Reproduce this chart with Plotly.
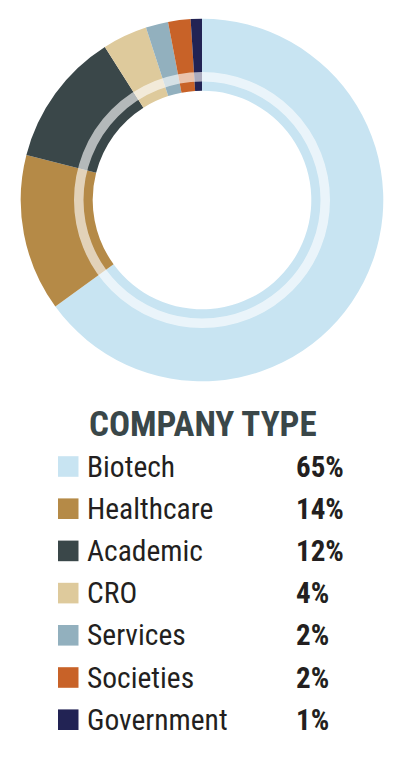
import plotly.graph_objects as go

# The page body has an 8px default margin, so the figure is drawn 8px in
# from the window's top-left corner; sizes/positions below are window pixels.
OFF = 8
W, H = 399 - 2 * OFF, 759 - 2 * OFF

categories = ["Biotech", "Healthcare", "Academic", "CRO", "Services", "Societies", "Government"]
shares = [65, 14, 12, 4, 2, 2, 1]
colors = ["#C8E4F2", "#B58A47", "#3A4749", "#DECA9C", "#92B0BE", "#C86228", "#222354"]
legend_title = "COMPANY TYPE"

FONT = "Roboto Condensed, Roboto, sans-serif"

def px(x):
    return (x - OFF) / W

def py(y):
    return 1 - (y - OFF) / H

cx, cy, R = 202, 200, 181.3
hole_r = 109.3

fig = go.Figure()
fig.add_trace(go.Pie(
    labels=categories,
    values=shares,
    marker=dict(colors=colors, line=dict(width=0)),
    hole=hole_r / R,
    sort=False,
    direction="clockwise",
    rotation=0,
    textinfo="none",
    hoverinfo="label+percent",
    showlegend=False,
    domain=dict(x=[px(cx - R), px(cx + R)], y=[py(cy + R), py(cy - R)]),
))

shapes = []
# translucent white ring inside the donut
ring_r, ring_w = 123.25, 9.5
shapes.append(dict(
    type="circle", xref="paper", yref="paper",
    x0=px(cx - ring_r), x1=px(cx + ring_r), y0=py(cy + ring_r), y1=py(cy - ring_r),
    line=dict(color="white", width=ring_w), fillcolor="rgba(0,0,0,0)",
    opacity=0.62, layer="above",
))

annotations = [dict(
    text="<b>" + legend_title + "</b>", x=px(203), y=py(424.5), xref="paper", yref="paper",
    xanchor="center", yanchor="middle", showarrow=False,
    font=dict(family=FONT, size=35, color="#3A4749"),
)]

row0, step = 466.5, 42.2
for i, (name, val, col) in enumerate(zip(categories, shares, colors)):
    yc = row0 + i * step
    shapes.append(dict(
        type="rect", xref="paper", yref="paper",
        x0=px(58), x1=px(78.5), y0=py(yc + 10.3), y1=py(yc - 10.3),
        fillcolor=col, line=dict(width=0),
    ))
    annotations.append(dict(
        text=name, x=px(85), y=py(yc), xref="paper", yref="paper",
        xanchor="left", yanchor="middle", showarrow=False,
        font=dict(family=FONT, size=29.5, color="#231F20"),
    ))
    annotations.append(dict(
        text="<b>%d%%</b>" % val, x=px(294), y=py(yc), xref="paper", yref="paper",
        xanchor="left", yanchor="middle", showarrow=False,
        font=dict(family=FONT, size=29, color="#231F20"),
    ))

fig.update_layout(
    width=W, height=H,
    margin=dict(l=0, r=0, t=0, b=0),
    paper_bgcolor="white", plot_bgcolor="white",
    shapes=shapes, annotations=annotations,
    showlegend=False,
)

fig.write_html("out.html")
